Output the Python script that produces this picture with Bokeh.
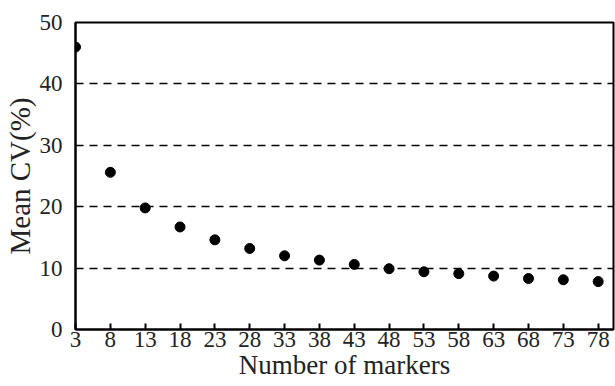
from bokeh.plotting import figure
from bokeh.models import FixedTicker, Range1d
from bokeh.embed import file_html
from bokeh.resources import INLINE

markers = [3, 8, 13, 18, 23, 28, 33, 38, 43, 48, 53, 58, 63, 68, 73, 78]
mean_cv = [46.0, 25.6, 19.8, 16.7, 14.6, 13.2, 12.0, 11.3, 10.6, 9.9, 9.4, 9.1, 8.7, 8.3, 8.1, 7.8]
x_ticks = [3, 8, 13, 18, 23, 28, 33, 38, 43, 48, 53, 58, 63, 68, 73, 78]
y_ticks = [0, 10, 20, 30, 40, 50]

FONT = "Liberation Serif"
TXT = "#222222"

p = figure(width=615, height=386, output_backend="svg", toolbar_location=None,
           x_range=Range1d(3, 80.2), y_range=Range1d(0, 50),
           min_border_left=75, min_border_right=2, min_border_top=22, min_border_bottom=57)

p.scatter(markers, mean_cv, size=10, color="black")

p.outline_line_color = "black"
p.outline_line_width = 2
p.outline_line_alpha = 1

p.xaxis.ticker = FixedTicker(ticks=x_ticks)
p.yaxis.ticker = FixedTicker(ticks=y_ticks)

for ax in (p.xaxis[0], p.yaxis[0]):
    ax.axis_line_color = "black"
    ax.axis_line_width = 2
    ax.major_label_text_font = FONT
    ax.major_label_text_font_size = "23px"
    ax.major_label_text_color = TXT
    ax.axis_label_text_font = FONT
    ax.axis_label_text_font_style = "normal"
    ax.axis_label_text_color = TXT
    ax.minor_tick_line_color = None

p.xaxis.major_tick_in = 6
p.xaxis.major_tick_out = 0
p.xaxis.major_tick_line_color = "black"
p.xaxis.major_tick_line_width = 2
p.xaxis.major_label_standoff = 2
p.xaxis.axis_label = "Number of markers"
p.xaxis.axis_label_text_font_size = "27px"
p.xaxis.axis_label_standoff = 0

p.yaxis.major_tick_line_color = None
p.yaxis.major_label_standoff = 7
p.yaxis.axis_label = "Mean CV(%)"
p.yaxis.axis_label_text_font_size = "29px"
p.yaxis.axis_label_standoff = 1

p.xgrid.grid_line_color = None
p.ygrid.grid_line_color = "black"
p.ygrid.grid_line_dash = "8 6"
p.ygrid.grid_line_width = 1.5

p.background_fill_color = "white"
p.border_fill_color = "white"

open("out.html", "w").write(file_html(p, INLINE))
